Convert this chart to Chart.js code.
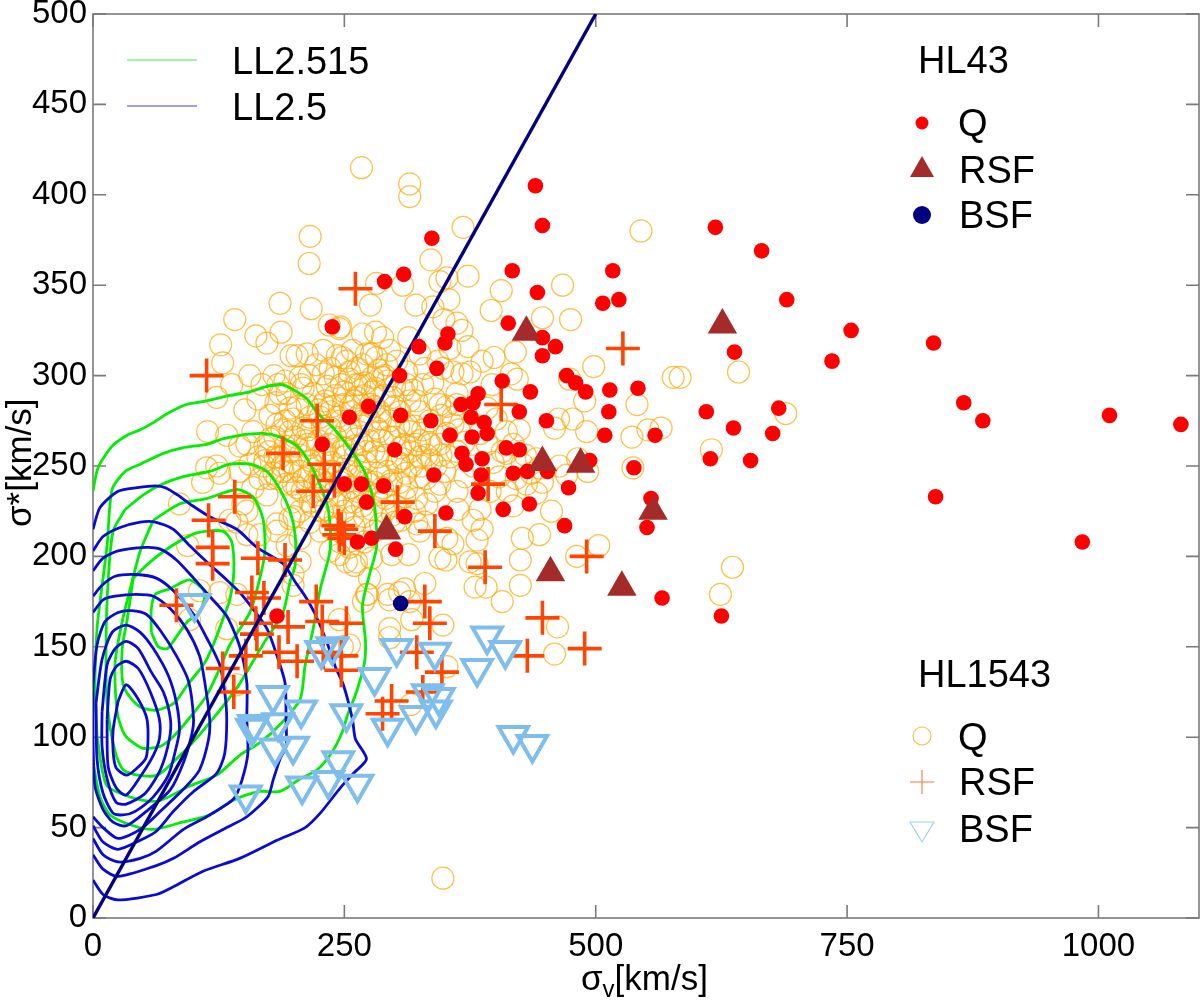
<!DOCTYPE html>
<html>
<head>
<meta charset="utf-8">
<title>sigma</title>
<script src="https://cdn.jsdelivr.net/npm/chart.js@4"></script>
<style>
  html, body { margin: 0; padding: 0; background: #fff; }
  canvas { display: block; }
</style>
</head>
<body>
<canvas id="chart" width="1200" height="1001"></canvas>
<script>
// HL43 [sigma_v, sigma*]
const hl43Q = [[440,405],[447,383],[337,376],[309,356],[290,352],[417,358],[442,346],[517,358],[507,340],[523,342],
  [413,329],[447,321],[460,316],[447,311],[353,323],[350,318],[324,316],[342,304],[305,300],[407,297],
  [435,291],[471,300],[480,296],[490,291],[514,292],[542,293],[383,290],[378,285],[366,284],[424,280],
  [513,280],[274,283],[255,277],[306,278],[336,275],[376,277],[389,274],[451,275],[355,267],[377,266],
  [392,268],[509,267],[559,267],[300,259],[411,260],[424,259],[367,257],[371,251],[387,254],[538,249],
  [339,245],[386,245],[418,246],[432,247],[452,247],[494,253],[250,240],[267,240],[289,239],[272,230],
  [310,222],[351,224],[383,235],[408,226],[434,229],[473,238],[469,217],[555,232],[551,216],[263,208],
  [277,210],[301,204],[566,177],[183,167],[238,327],[228,262],[619,382],[665,369],[690,342],[754,325],
  [735,308],[836,318],[638,313],[866,285],[885,275],[1011,278],[1082,273],[610,280],[682,282],[637,271],
  [676,268],[614,254],[654,253],[838,233],[984,208],[625,167]];
const hl43RSF = [[431,324],[626,328],[447,252],[485,251],[557,225],[292,214],[455,191],[526,183]];
const hl43BSF = [[306,174]];

// HL1543
const hl1543Q = [[267,415],[315,406],[315,399],[368,382],[545,380],[216,377],[336,364],[215,362],[345,352],[352,354],
  [373,355],[308,350],[282,351],[186,340],[217,337],[276,339],[321,339],[338,338],[354,342],[406,347],
  [396,336],[467,350],[447,332],[475,331],[141,331],[235,328],[246,327],[349,331],[362,329],[367,325],
  [162,322],[187,324],[173,318],[127,317],[129,307],[197,311],[203,311],[213,312],[229,314],[243,311],
  [268,323],[281,324],[288,321],[314,321],[245,326],[373,316],[355,315],[258,314],[277,312],[295,314],
  [325,312],[387,308],[399,310],[420,313],[498,305],[577,299],[474,298],[422,298],[416,301],[358,302],
  [367,301],[375,302],[348,304],[642,302],[489,286],[541,284],[463,276],[477,276],[459,271],[491,269],
  [536,266],[552,270],[565,271],[537,249],[689,279],[615,259],[584,299],[636,194],[624,179],[156,300],
  [168,295],[180,300],[184,295],[191,297],[206,299],[207,295],[229,301],[241,299],[252,308],[268,306],
  [282,310],[138,295],[123,288],[151,281],[164,287],[186,290],[114,269],[133,267],[159,269],[146,261],
  [153,262],[113,249],[123,250],[196,282],[213,284],[229,284],[183,273],[176,265],[196,269],[209,271],
  [236,271],[256,271],[282,271],[262,295],[278,291],[288,299],[249,284],[272,280],[196,258],[213,262],
  [249,260],[288,264],[268,262],[411,257],[407,258],[441,254],[464,250],[482,254],[492,247],[427,251],
  [444,249],[397,295],[362,290],[362,284],[345,284],[328,295],[312,295],[298,288],[278,299],[255,302],
  [265,295],[292,306],[285,280],[322,286],[312,273],[345,262],[358,273],[325,264],[392,262],[401,276],
  [411,269],[332,256],[308,254],[262,265],[272,258],[252,260],[456,225],[444,212],[427,210],[425,198],
  [425,184],[407,175],[391,183],[380,183],[382,196],[375,197],[351,198],[345,199],[382,209],[387,215],
  [378,220],[363,226],[418,228],[441,235],[431,240],[503,206],[481,200],[462,161],[459,146],[348,162],
  [352,139],[316,118],[275,188],[273,179],[269,175],[295,176],[305,180],[310,182],[315,175],[317,165],
  [330,185],[314,201],[297,201],[260,195],[252,197],[245,201],[325,214],[322,218],[352,210],[358,207],
  [255,151],[295,155],[245,165],[385,226],[362,236],[345,240],[395,236],[421,243],[447,241],[471,245],
  [332,229],[322,232],[298,223],[348,22],[86,229],[94,206],[109,241],[126,246],[106,181],[96,165],
  [133,160],[126,180],[143,179],[149,229],[166,243],[173,234],[183,243],[199,240],[136,220],[153,212],
  [166,212],[183,214],[193,206],[206,197],[199,184],[199,190],[143,129],[248,150],[236,203],[262,197],
  [277,199],[272,179],[295,160],[293,179],[183,218],[196,221],[206,210],[159,238],[176,243],[189,247],
  [203,238],[143,219],[153,225],[224,264],[231,258],[241,266],[250,255],[260,261],[236,247],[246,241],
  [255,247],[265,250],[275,264],[283,255],[293,247],[300,266],[305,241],[317,250],[325,244],[216,253],
  [206,247],[196,247],[188,250],[221,241],[231,236],[241,230],[250,225],[260,230],[270,236],[280,241],
  [290,225],[300,219],[310,233],[320,225],[330,219],[340,236],[350,247],[236,280],[246,275],[256,283],
  [265,278],[275,275],[285,269],[295,275],[305,280],[250,291],[260,286],[270,289],[280,283],[290,289],
  [300,294],[315,286],[325,280],[335,275],[315,269],[325,255],[337,253],[228,225],[216,230],[206,225],
  [198,230],[216,219],[226,214],[236,216],[260,216],[270,222],[280,214],[270,208],[255,205],[246,208],
  [211,264],[202,261],[191,261],[181,255],[171,261],[164,255],[156,251],[146,247],[171,253],[181,266],
  [191,275],[216,277],[226,277],[231,286],[241,289],
  [176,278],[182,285],[188,270],[193,290],[199,276],[204,283],[209,293],[214,270],[219,290],[224,281],
  [228,272],[233,294],[238,283],[243,277],[247,295],[252,270],[257,280],[262,288],[267,272],[271,296],
  [276,284],[281,293],[286,276],[290,300],[295,266],[300,283],[304,272],[309,292],[170,250],[175,258],
  [180,246],[186,255],[192,240],[197,252],[201,266],[206,256],[210,243],[215,260],[220,250],[225,244],
  [229,258],[234,262],[238,252],[243,245],[247,258],[252,250],[256,238],[261,256],[266,244],[271,252],
  [275,240],[279,258],[284,246],[288,238],[292,256],[297,242],[302,252],[306,260],[311,246],[316,258],
  [321,262],[326,250],[331,243],[336,262],[341,250],[346,256],[200,222],[208,236],[214,244],[218,228],
  [223,234],[227,242],[232,226],[236,238],[241,222],[245,234],[249,242],[254,230],[258,222],[263,236],
  [268,228],[272,242],[277,226],[282,234],[286,218],[291,232],[296,240],[301,228],[306,220],[312,238],
  [215,300],[222,306],[236,304],[248,310],[255,298],[263,304],[272,312],[284,303],[293,297],[302,308],
  [312,302],[318,292],[330,304],[338,296],[343,308],
  [352,283],[358,277],[364,270],[369,263],[355,255],[362,258],[370,244],[378,250],[385,268],[392,282],
  [398,252],[404,244],[412,236],[418,262],[424,270],[430,256],[436,246],[352,268],[346,278],[340,287],
  [334,263],[328,270],[320,272],[310,262],[304,252]];
const hl1543RSF = [[83,173],[115,220],[141,233],[119,205],[119,196],[164,199],[191,198],[158,180],[170,177],[222,175],
  [162,163],[163,157],[194,161],[228,164],[252,163],[152,145],[185,147],[203,142],[229,147],[247,145],
  [247,137],[129,138],[140,125],[297,120],[288,113],[189,257],[230,251],[240,242],[219,236],[244,217],
  [247,215],[245,212],[250,210],[303,230],[340,214],[393,240],[390,194],[330,175],[335,163],[447,166],
  [491,200],[432,145],[489,149],[322,147],[347,136],[328,125],[527,315],[406,284],[261,348],[113,300],[223,275]];
const hl1543BSF = [[392,156],[410,148],[382,138],[302,149],[340,147],[280,133],[252,113],[333,124],[344,122],[341,115],
  [321,112],[293,105],[418,101],[437,96],[244,87],[263,74],[101,174],[227,148],[238,150],[179,123],
  [207,115],[158,105],[184,108],[160,107],[199,95],[181,94],[208,73],[234,76],[152,68]];

// one to one line
const unityLine = [[0,0],[500,500]];

// contours LL2.5 (blue)
const blue1 = [[0,215],[7,227],[25,236],[44,238],[62,239],[72,238],[84,234],[99,228],[116,222],[143,215],[163,205],[189,196],[201,186],[211,178],[221,168],[233,152],[241,139],[249,129],[258,110],[261,99],[272,88],[259,80],[246,72],[226,58],[211,50],[183,43],[146,33],[110,26],[79,17],[63,13],[25,10],[10,13],[0,21]];
const blue2 = [[0,203],[10,211],[27,216],[47,219],[62,219],[80,215],[96,206],[113,197],[133,187],[146,180],[159,171],[173,160],[183,145],[191,130],[192,110],[192,95],[186,88],[179,76],[174,67],[153,56],[133,50],[106,42],[80,33],[63,29],[25,23],[10,27],[0,35]];
const blue3 = [[0,192],[10,199],[25,203],[52,205],[67,204],[83,198],[100,188],[116,178],[133,167],[146,150],[153,130],[153,110],[154,91],[148,76],[140,66],[113,56],[90,49],[63,37],[47,33],[25,31],[10,35],[0,44]];
const blue4 = [[0,178],[9,184],[22,189],[43,190],[63,188],[80,181],[100,168],[113,155],[126,140],[131,125],[133,110],[131,91],[123,80],[100,70],[80,59],[63,48],[47,43],[25,38],[10,42],[0,51]];
const blue5 = [[0,169],[10,176],[22,178],[43,179],[60,178],[77,171],[93,160],[106,145],[111,131],[116,110],[115,99],[106,82],[93,73],[67,59],[47,49],[25,44],[10,50],[0,56]];
const blue6 = [[0,129],[4,151],[12,164],[25,169],[38,170],[53,168],[67,159],[83,145],[95,131],[100,110],[98,101],[90,86],[77,71],[53,59],[33,51],[20,53],[10,60],[2,73],[0,101],[0,129]];
const blue7 = [[3,119],[9,143],[19,158],[33,162],[47,158],[60,149],[75,134],[83,119],[86,104],[83,95],[75,79],[60,67],[42,59],[30,57],[20,58],[10,69],[4,88],[3,119]];
const blue8 = [[9,114],[14,140],[22,149],[33,153],[45,149],[58,136],[70,125],[77,110],[76,99],[67,82],[52,69],[33,63],[23,64],[14,77],[9,95],[9,114]];
const blue9 = [[14,110],[17,132],[23,139],[33,142],[45,138],[57,125],[66,110],[66,99],[60,90],[48,79],[33,68],[23,72],[15,84],[14,110]];
const blue10 = [[25,120],[33,129],[45,121],[54,109],[53,89],[42,82],[33,79],[23,83],[20,92],[20,104],[25,120]];

// contours LL2.515 (green)
const green1 = [[0,236],[5,249],[19,261],[34,267],[47,270],[60,274],[74,279],[93,284],[113,286],[136,289],[156,291],[173,294],[188,295],[203,291],[213,287],[224,279],[239,271],[255,260],[270,247],[280,228],[282,205],[275,190],[268,173],[271,153],[270,141],[262,125],[253,112],[248,103],[238,92],[223,82],[206,77],[186,70],[166,70],[139,65],[116,57],[89,53],[60,49],[40,51],[17,57],[7,67],[0,86]];
const green2 = [[4,101],[2,129],[4,160],[7,175],[14,206],[19,237],[32,247],[47,251],[70,257],[89,260],[113,262],[129,265],[146,267],[169,268],[186,266],[203,261],[213,254],[224,242],[234,226],[236,204],[226,182],[219,160],[211,140],[206,121],[186,107],[166,97],[146,90],[123,79],[96,73],[67,65],[50,65],[27,69],[14,73],[9,82],[4,101]];
const green3 = [[32,226],[20,214],[15,186],[13,153],[14,119],[22,92],[30,82],[44,79],[64,79],[83,88],[99,97],[119,110],[144,128],[156,139],[171,153],[189,169],[196,186],[201,195],[201,212],[196,225],[186,237],[173,247],[156,251],[136,251],[116,247],[89,244],[69,240],[50,234],[32,226]];
const green4 = [[60,220],[86,229],[113,232],[143,237],[159,233],[169,221],[171,203],[166,188],[156,169],[136,151],[126,138],[113,123],[98,112],[81,101],[67,95],[49,94],[32,101],[24,114],[22,141],[29,164],[37,182],[47,203],[60,220]];
const green5 = [[40,188],[57,197],[79,206],[103,213],[129,214],[138,208],[140,191],[136,176],[129,165],[121,153],[111,141],[94,129],[81,119],[64,115],[50,116],[40,120],[30,129],[29,149],[34,165],[40,188]];
const green6 = [[58,158],[58,171],[62,179],[76,182],[96,187],[111,180],[106,169],[94,164],[81,154],[74,149],[65,150],[58,158]];

const blueContours = [blue1, blue2, blue3, blue4, blue5, blue6, blue7, blue8, blue9, blue10];
const greenContours = [green1, green2, green3, green4, green5, green6];

const xTicks = [0, 250, 500, 750, 1000];
const yTicks = [0, 50, 100, 150, 200, 250, 300, 350, 400, 450, 500];
const legendLines = ['LL2.515', 'LL2.5'];
const legendHL43 = ['HL43', 'Q', 'RSF', 'BSF'];
const legendHL1543 = ['HL1543', 'Q', 'RSF', 'BSF'];

const FONT = '"Liberation Sans", Arial, sans-serif';
const GRIS = '#7a7a7a';

function pts(list) {
    return list.map(p => ({ x: p[0], y: p[1] }));
}

function lineDataset(list, color, tension) {
    return {
        data: pts(list),
        showLine: true,
        borderColor: color,
        borderWidth: 2.8,
        pointRadius: 0,
        tension: tension,
        fill: false
    };
}

// tick labels hang over the plot edges, the layout must not shrink for them
function noPadding(s) {
    s.getPadding = () => ({ left: 0, top: 0, right: 0, bottom: 0 });
}

// frame and inward ticks on all four sides
const frameTicks = {
    id: 'frameTicks',
    beforeDatasetsDraw(chart) {
        const { ctx, chartArea: a, scales } = chart;
        ctx.save();
        ctx.strokeStyle = GRIS;
        ctx.lineWidth = 1.6;
        ctx.strokeRect(a.left, a.top, a.right - a.left, a.bottom - a.top);
        ctx.beginPath();
        xTicks.forEach(v => {
            const x = scales.x.getPixelForValue(v);
            ctx.moveTo(x, a.bottom); ctx.lineTo(x, a.bottom - 13);
            ctx.moveTo(x, a.top); ctx.lineTo(x, a.top + 13);
        });
        yTicks.forEach(v => {
            const y = scales.y.getPixelForValue(v);
            ctx.moveTo(a.left, y); ctx.lineTo(a.left + 13, y);
            ctx.moveTo(a.right, y); ctx.lineTo(a.right - 13, y);
        });
        ctx.stroke();
        ctx.restore();
    }
};

// axis titles and the hand placed legends
const notes = {
    id: 'notes',
    afterDraw(chart) {
        const ctx = chart.ctx;
        ctx.save();
        ctx.fillStyle = '#000';
        ctx.textBaseline = 'alphabetic';

        // x title with subscript
        let x = 581;
        ctx.font = '35px ' + FONT;
        ctx.fillText('σ', x, 990);
        x += ctx.measureText('σ').width;
        ctx.font = '24px ' + FONT;
        ctx.fillText('v', x, 997);
        x += ctx.measureText('v').width;
        ctx.font = '35px ' + FONT;
        ctx.fillText('[km/s]', x, 990);

        // y title
        ctx.save();
        ctx.translate(31, 527);
        ctx.rotate(-Math.PI / 2);
        ctx.fillText('σ*[km/s]', 0, 0);
        ctx.restore();

        // legend texts
        ctx.font = '38px ' + FONT;
        ctx.fillText(legendLines[0], 232, 74);
        ctx.fillText(legendLines[1], 232, 120);
        ctx.fillText(legendHL43[0], 918, 73);
        ctx.fillText(legendHL43[1], 958, 136);
        ctx.fillText(legendHL43[2], 959, 183);
        ctx.fillText(legendHL43[3], 959, 228);
        ctx.fillText(legendHL1543[0], 918, 687);
        ctx.fillText(legendHL1543[1], 958, 750);
        ctx.fillText(legendHL1543[2], 959, 795);
        ctx.fillText(legendHL1543[3], 959, 842);

        // legend lines
        ctx.lineWidth = 1.6;
        ctx.strokeStyle = '#7cf77c';
        ctx.beginPath(); ctx.moveTo(127, 60); ctx.lineTo(197, 60); ctx.stroke();
        ctx.strokeStyle = '#7c7cf7';
        ctx.beginPath(); ctx.moveTo(127, 106); ctx.lineTo(197, 106); ctx.stroke();

        // legend markers
        ctx.fillStyle = '#ff0000';
        ctx.beginPath(); ctx.arc(922, 123, 6.5, 0, Math.PI * 2); ctx.fill();
        ctx.fillStyle = '#a52a2a';
        ctx.beginPath(); ctx.moveTo(922, 156); ctx.lineTo(934, 177); ctx.lineTo(910, 177); ctx.closePath(); ctx.fill();
        ctx.fillStyle = '#000080';
        ctx.beginPath(); ctx.arc(922, 215, 9, 0, Math.PI * 2); ctx.fill();

        ctx.lineWidth = 1.1;
        ctx.strokeStyle = 'rgba(255,165,0,0.75)';
        ctx.beginPath(); ctx.arc(922, 736, 9, 0, Math.PI * 2); ctx.stroke();
        ctx.strokeStyle = 'rgba(255,69,0,0.75)';
        ctx.beginPath();
        ctx.moveTo(910, 782); ctx.lineTo(934, 782);
        ctx.moveTo(922, 770); ctx.lineTo(922, 794);
        ctx.stroke();
        ctx.strokeStyle = 'rgba(125,189,236,0.75)';
        ctx.beginPath(); ctx.moveTo(910, 822); ctx.lineTo(934, 822); ctx.lineTo(922, 842); ctx.closePath(); ctx.stroke();
        ctx.restore();
    }
};

// first dataset is painted last, so the list runs from top to bottom
const datasets = [
    { data: pts(hl43BSF), pointStyle: 'circle', pointRadius: 7.8, pointBackgroundColor: '#000080', pointBorderWidth: 0 },
    { data: pts(hl43RSF), pointStyle: 'triangle', pointRadius: 17, pointBackgroundColor: '#a52a2a', pointBorderWidth: 0 },
    { data: pts(hl43Q), pointStyle: 'circle', pointRadius: 7.8, pointBackgroundColor: '#ff0000', pointBorderWidth: 0 },
    lineDataset(unityLine, '#000080', 0),
    { data: pts(hl1543BSF), pointStyle: 'triangle', rotation: 180, pointRadius: 17, pointBackgroundColor: 'transparent', pointBorderColor: '#7fbeec', pointBorderWidth: 4 },
    { data: pts(hl1543RSF), pointStyle: 'cross', pointRadius: 17, pointBorderColor: '#ff4500', pointBorderWidth: 3.6 },
    ...blueContours.map(c => lineDataset(c, '#0a0ad8', 0.25)),
    ...greenContours.map(c => lineDataset(c, '#00ee00', 0.25)),
    { data: pts(hl1543Q), pointStyle: 'circle', pointRadius: 11, pointBackgroundColor: 'transparent', pointBorderColor: 'rgba(255,165,0,0.7)', pointBorderWidth: 1.2 }
];
datasets[3].borderWidth = 3.4;

new Chart(document.getElementById('chart'), {
    type: 'scatter',
    data: { datasets: datasets },
    options: {
        responsive: false,
        animation: false,
        devicePixelRatio: 1,
        events: [],
        layout: { autoPadding: false, padding: { top: 14, right: 1, left: 0, bottom: 0 } },
        plugins: { legend: { display: false }, tooltip: { enabled: false } },
        scales: {
            x: {
                type: 'linear',
                min: 0,
                max: 1100,
                grid: { display: false, drawTicks: false },
                border: { display: false },
                beforeUpdate: noPadding,
                afterFit(s) { s.height = 83; },
                afterBuildTicks(s) { s.ticks = xTicks.map(v => ({ value: v })); },
                ticks: { color: '#000', padding: 9, maxRotation: 0, autoSkip: false, callback: v => String(v), font: { family: FONT, size: 33 } }
            },
            y: {
                type: 'linear',
                min: 0,
                max: 500,
                grid: { display: false, drawTicks: false },
                border: { display: false },
                beforeUpdate: noPadding,
                afterFit(s) { s.width = 93; },
                afterBuildTicks(s) { s.ticks = yTicks.map(v => ({ value: v })); },
                ticks: { color: '#000', padding: 6, autoSkip: false, callback: v => String(v), font: { family: FONT, size: 33 } }
            }
        }
    },
    plugins: [frameTicks, notes]
});
</script>
</body>
</html>
